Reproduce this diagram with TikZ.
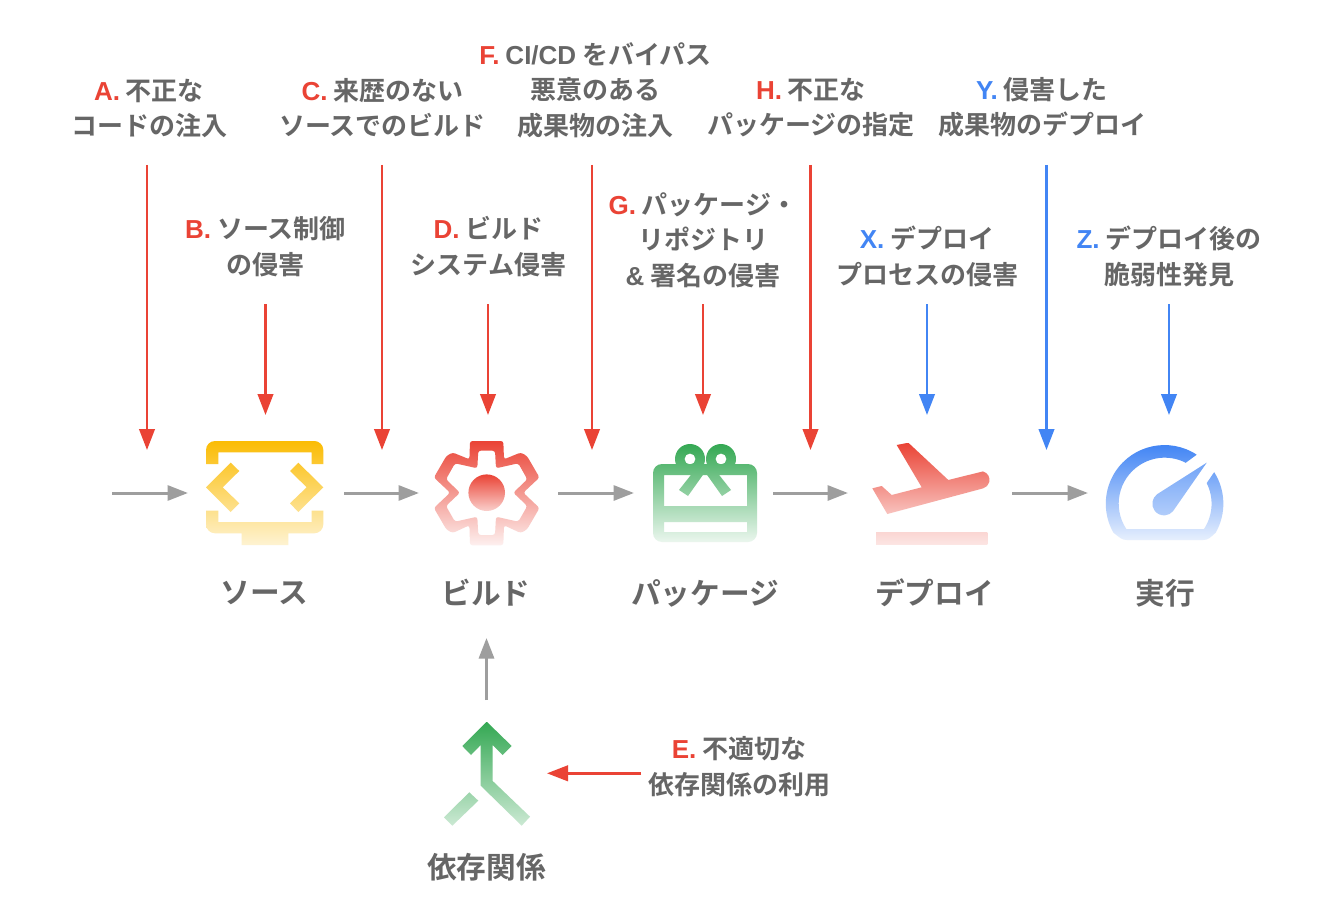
\documentclass[tikz,border=0pt]{standalone}
\usepackage{fontspec}
\setmainfont{Noto Sans CJK JP}[BoldFont={* Bold}]
\newfontfamily\latinfont{Liberation Sans}[BoldFont={* Bold}]
\usetikzlibrary{arrows.meta}

\definecolor{txtgray}{HTML}{666666}
\definecolor{arrgray}{HTML}{9E9E9E}
\definecolor{gred}{HTML}{EA4335}
\definecolor{gblue}{HTML}{4285F4}
\definecolor{ggreen}{HTML}{34A853}
\definecolor{gyellow}{HTML}{FBBC04}

\tikzset{
  lab/.style={align=center, inner sep=0pt, text=txtgray, font=\bfseries\fontsize{26}{35.5}\selectfont},
  stagelab/.style={inner sep=0pt, text=txtgray, font=\bfseries\fontsize{29.7}{35}\selectfont},
  grayarrow/.style={draw=arrgray, line width=3pt, -{Triangle[length=20.5pt,width=15pt]}},
  redarrow/.style={draw=gred, line width=2.5pt, -{Triangle[length=21pt,width=15.5pt]}},
  bluearrow/.style={draw=gblue, line width=2.5pt, -{Triangle[length=21pt,width=15.5pt]}},
  pkgshade/.style={top color=ggreen, bottom color=ggreen!10},
}
\newcommand{\tagr}[1]{{\latinfont\color{gred}#1}}
\newcommand{\tagb}[1]{{\latinfont\color{gblue}#1}}

\begin{document}
\begin{tikzpicture}[x=1pt, y=-1pt, line cap=butt, line join=miter]
  \path[use as bounding box, fill=white] (0,0) rectangle (1328,912);

  %% threat labels
  \node[lab] (labA) at (149,108.5) {\tagr{A.} 不正な\\コードの注入};
  \node[lab] (labB) at (265.5,246.5) {\tagr{B.} ソース制御\\の侵害};
  \node[lab] (labC) at (382.5,107.5) {\tagr{C.} 来歴のない\\ソースでのビルド};
  \node[lab] (labD) at (488.5,246.5) {\tagr{D.} ビルド\\システム侵害};
  \node[lab] (labE) at (739,766.5) {\tagr{E.} 不適切な\\依存関係の利用};
  \node[lab] (labF) at (595.5,90) {\tagr{F.} {\latinfont CI/CD} をバイパス\\悪意のある\\成果物の注入};
  \node[lab] (labG) at (703,240) {\tagr{G.} パッケージ・\\リポジトリ\\{\latinfont \&} 署名の侵害};
  \node[lab] (labH) at (811,107.5) {\tagr{H.} 不正な\\パッケージの指定};
  \node[lab] (labX) at (927,256.5) {\tagb{X.} デプロイ\\プロセスの侵害};
  \node[lab] (labY) at (1042,107.5) {\tagb{Y.} 侵害した\\成果物のデプロイ};
  \node[lab] (labZ) at (1169,256.5) {\tagb{Z.} デプロイ後の\\脆弱性発見};

  %% stage labels
  \node[stagelab] (srclab) at (264.5,593) {ソース};
  \node[stagelab] (buildlab) at (486,593) {ビルド};
  \node[stagelab] (pkglab) at (705,593) {パッケージ};
  \node[stagelab] (deplab) at (934.5,593) {デプロイ};
  \node[stagelab] (runlab) at (1165,593) {実行};
  \node[stagelab] (deplibs) at (486.5,867) {依存関係};

  %% source icon
  \begin{scope}
    \clip (206,464) -- (206,450) arc (180:270:9) -- (314.3,441) arc (-90:0:9) -- (323.3,464) -- (311.7,464)
      -- (311.7,452.3) -- (218.3,452.3) -- (218.3,464) -- cycle
      (230.7,462.7) -- (239.3,471) -- (222.7,487.3) -- (239.3,503.3) -- (230.7,512) -- (206,487.3) -- cycle
      (298.3,462.7) -- (290,471) -- (306.7,487.3) -- (290,503.3) -- (298.3,512) -- (323.3,487.3) -- cycle
      (206,510.7) -- (218.3,510.7) -- (218.3,522) -- (311.7,522) -- (311.7,510.7) -- (323.3,510.7) -- (323.3,524.3) arc (0:90:9)
      -- (288.3,533.3) -- (288.3,545) -- (241.7,545) -- (241.7,533.3) -- (215,533.3) arc (90:180:9) -- cycle;
    \shade[top color=gyellow, bottom color=gyellow!18] (200,441) rectangle (330,545);
  \end{scope}

  %% build icon
  \begin{scope}[even odd rule, rounded corners=2.5pt]
    \clip
      (470,441) -- (503.3,441) -- (504,459.3) -- (520.7,452.5) -- (527,456) -- (539.5,477.5)
      -- (523.3,492.7) -- (539.5,508) -- (527,529.5) -- (520.7,533)
      -- (504,525.3) -- (503.3,545.3) -- (470,545.3) -- (469.4,525.3)
      -- (452.7,533) -- (446.4,529.5) -- (433.9,508) -- (450.1,492.7) -- (433.9,477.5)
      -- (446.4,456) -- (452.7,452.5) -- (469.4,459.3) -- cycle
      (478.3,450.7) -- (495,450.7) -- (496,468.3) -- (518.3,463.3) -- (527.3,479.3) -- (513.3,492.7) -- (527.3,506)
      -- (518.3,521.7) -- (496,516.7) -- (495,535) -- (478.3,535) -- (477.3,516.7) -- (455,521.7) -- (446,506)
      -- (460,492.7) -- (446,479.3) -- (455,463.3) -- (477.3,468.3) -- cycle;
    \shade[sharp corners, top color=gred, bottom color=gred!8] (430,441) rectangle (545,545.3);
  \end{scope}
  \shade[top color=gred, bottom color=gred!25] (486.7,492.7) circle (18.3);

  %% package icon
  \begin{scope}[even odd rule]
    \clip
      (653,473) arc (180:270:9) -- (748,464) arc (-90:0:9) -- (757,533) arc (0:90:9) -- (662,542) arc (90:180:9) -- cycle
      (664,475) -- (664,506) -- (747,506) -- (747,475) -- cycle
      (664,522) -- (664,532) -- (747,532) -- (747,522) -- cycle;
    \shade[pkgshade] (650,444) rectangle (760,542);
  \end{scope}
  \begin{scope}[even odd rule]
    \clip (690,459) circle (15) (690,459) circle (5.5) (721,459) circle (15) (721,459) circle (5.5);
    \shade[pkgshade] (650,444) rectangle (760,542);
  \end{scope}
  \begin{scope}
    \clip (705,472) -- (688,496) -- (679,490) -- (698,466) -- (712,466) -- (731,490) -- (722,496) -- cycle;
    \shade[pkgshade] (650,444) rectangle (760,542);
  \end{scope}

  %% deploy icon
  \begin{scope}
    \clip (896.7,445) -- (908.3,442.7) -- (948.3,480) -- (983,471.4) arc (-75:75:8.8) -- (887.3,514) -- (872.3,488.3) -- (881.7,486)
      -- (891.7,495) -- (921.7,487.3) -- cycle;
    \shade[top color=gred, bottom color=gred!32] (870,443) rectangle (992,514);
  \end{scope}
  \shade[top color=gred!22, bottom color=gred!14] (876,532) rectangle (987.3,544);

  %% run icon
  \begin{scope}
    \clip (1196.7,454.7) arc (-56.7:-209.4:58.7) .. controls (1120,538) and (1122,540) .. (1127,540) -- (1203,540)
      .. controls (1208,540) and (1210,538) .. (1215.8,532.5) arc (29.4:-32.5:58.7) -- (1206.7,483.1)
      arc (-26.6:33.4:46) -- (1126.3,529) arc (-213.4:-62.8:46) -- cycle;
    \shade[top color=gblue, bottom color=gblue!12] (1100,445) rectangle (1230,541);
  \end{scope}
  \begin{scope}
    \clip (1206.7,462.7) -- (1157.3,494.1) arc (-125:-320:11.7) -- cycle;
    \shade[top color=gblue!75, bottom color=gblue!40] (1150,462) rectangle (1210,517);
  \end{scope}

  %% deps icon
  \begin{scope}
    \clip (486.7,721.7) -- (511.7,746) -- (502.7,755) -- (492.7,745) -- (492.7,781) -- (530,816.7) -- (521.7,825.7)
      -- (480.7,785.7) -- (480.7,745) -- (471,755) -- (462.3,746) -- cycle
      (469.3,792.3) -- (478.3,800.7) -- (452.3,825.7) -- (444,817.3) -- cycle;
    \shade[top color=ggreen, bottom color=ggreen!25] (440,722) rectangle (535,826);
  \end{scope}

  %% connector ends
  \coordinate (fromA) at (147,165);
  \coordinate (fromB) at (265.5,304);
  \coordinate (fromC) at (382,165);
  \coordinate (fromD) at (488,304);
  \coordinate (fromE) at (641,773.3);
  \coordinate (fromF) at (592,165);
  \coordinate (fromG) at (703,304);
  \coordinate (fromH) at (810.5,165);
  \coordinate (fromX) at (927,304);
  \coordinate (fromY) at (1046.5,165);
  \coordinate (fromZ) at (1169,304);
  \coordinate (inA) at (147,450);
  \coordinate (inB) at (265.5,415);
  \coordinate (inC) at (382,450);
  \coordinate (inD) at (488,415);
  \coordinate (inE) at (547,773.3);
  \coordinate (inF) at (592,450);
  \coordinate (inG) at (703,415);
  \coordinate (inH) at (810.5,450);
  \coordinate (inX) at (927,415);
  \coordinate (inY) at (1046.5,450);
  \coordinate (inZ) at (1169,415);

  \draw[redarrow] (fromA) -- (inA);
  \draw[redarrow] (fromB) -- (inB);
  \draw[redarrow] (fromC) -- (inC);
  \draw[redarrow] (fromD) -- (inD);
  \draw[redarrow] (fromE) -- (inE);
  \draw[redarrow] (fromF) -- (inF);
  \draw[redarrow] (fromG) -- (inG);
  \draw[redarrow] (fromH) -- (inH);
  \draw[bluearrow] (fromX) -- (inX);
  \draw[bluearrow] (fromY) -- (inY);
  \draw[bluearrow] (fromZ) -- (inZ);

  %% flow arrows
  \coordinate (flow0) at (112,493);
  \coordinate (src) at (188,493);
  \coordinate (srcout) at (344,493);
  \coordinate (build) at (419,493);
  \coordinate (buildout) at (558,493);
  \coordinate (pkg) at (634,493);
  \coordinate (pkgout) at (773,493);
  \coordinate (dep) at (848,493);
  \coordinate (depout) at (1012,493);
  \coordinate (run) at (1088,493);
  \coordinate (libsout) at (486.5,700);
  \coordinate (libsin) at (486.5,638);
  \draw[grayarrow] (flow0) -- (src);
  \draw[grayarrow] (srcout) -- (build);
  \draw[grayarrow] (buildout) -- (pkg);
  \draw[grayarrow] (pkgout) -- (dep);
  \draw[grayarrow] (depout) -- (run);
  \draw[grayarrow] (libsout) -- (libsin);
\end{tikzpicture}
\end{document}
